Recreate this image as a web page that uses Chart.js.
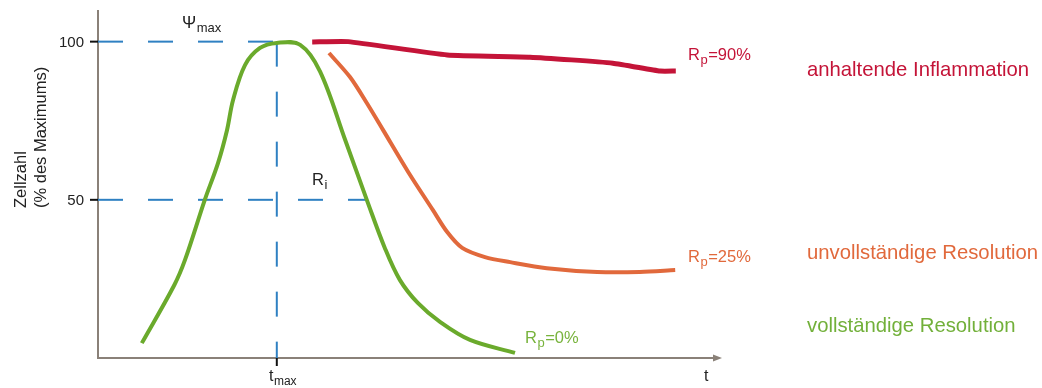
<!DOCTYPE html>
<html>
<head>
<meta charset="utf-8">
<script src="https://cdn.jsdelivr.net/npm/chart.js@4.4.1/dist/chart.umd.min.js"></script>
<style>
  html, body { margin: 0; padding: 0; background: #fff; }
  #wrap { width: 1042px; height: 388px; position: relative; }
</style>
</head>
<body>
<div id="wrap"><canvas id="zellChart"></canvas></div>
<script>
// Zeitachse (willkürliche Einheiten) und Zellzahl in % des Maximums
const tMax = 29.8;
const yTicks = [50, 100];

// vollständige Resolution (grün)
const tGreen = [7.3, 12.7, 14.5, 17.8, 20, 21.5, 22.5, 24.5, 27, 29.8, 33.7, 37, 41.2, 44.8, 47.8, 50.3, 53.3, 57, 62, 69.5];
const yGreen = [4.7, 23, 31, 50, 61.6, 72, 81.5, 92.6, 98, 99.6, 99, 90.6, 68.9, 50, 34.8, 24.7, 17.4, 11.4, 5.7, 1.6];

// unvollständige Resolution (orange)
const tOrange = [38.5, 42, 44.8, 47.5, 51.7, 55.8, 58.2, 60.7, 64.5, 68.7, 74.8, 83.2, 90.3, 96.2];
const yOrange = [96.4, 88.8, 80.6, 72.1, 58.8, 46.8, 39.8, 34.8, 31.9, 30.3, 28.4, 27.2, 27.2, 27.8];

// anhaltende Inflammation (rot)
const tRed = [35.7, 41.7, 58.2, 72, 85.8, 93.7, 96.3];
const yRed = [99.9, 100, 95.8, 95.1, 93.2, 90.7, 90.7];

// Hilfslinien (gestrichelt)
const tHalf = 44.8; // Schnittpunkt grün bei 50 %

const zip = (xs, ys) => xs.map((x, i) => ({ x: x, y: ys[i] }));

const FONT = '"Liberation Sans", Arial, sans-serif';
const BLUE = "#2f80c2";
const GREEN = "#6aaa2c";
const ORANGE = "#e1693c";
const RED = "#c41438";
const AXIS = "#8a8178";

// Achsen, Ticks und Beschriftungen
const annotations = {
    id: "annotations",
    beforeDatasetsDraw(chart) {
        const ctx = chart.ctx;
        const xs = chart.scales.x, ys = chart.scales.y;
        const x0 = xs.getPixelForValue(0), xEnd = xs.getPixelForValue(xs.max);
        const y0 = ys.getPixelForValue(0), yTop = ys.getPixelForValue(ys.max);
        ctx.save();
        ctx.strokeStyle = AXIS;
        ctx.lineWidth = 2;
        ctx.beginPath();
        ctx.moveTo(x0, yTop);
        ctx.lineTo(x0, y0);
        ctx.lineTo(xEnd - 4, y0);
        ctx.stroke();
        // Pfeilspitze
        ctx.fillStyle = AXIS;
        ctx.beginPath();
        ctx.moveTo(xEnd, y0);
        ctx.lineTo(xEnd - 9, y0 - 3.5);
        ctx.lineTo(xEnd - 9, y0 + 3.5);
        ctx.closePath();
        ctx.fill();
        // Ticks
        ctx.strokeStyle = "#111";
        ctx.lineWidth = 2;
        ctx.font = "15px " + FONT;
        ctx.fillStyle = "#222";
        ctx.textAlign = "right";
        ctx.textBaseline = "alphabetic";
        yTicks.forEach(v => {
            const py = ys.getPixelForValue(v);
            ctx.beginPath();
            ctx.moveTo(x0 - 8, py);
            ctx.lineTo(x0, py);
            ctx.stroke();
            ctx.fillText(String(v), x0 - 14, py + 5);
        });
        const pxT = xs.getPixelForValue(tMax);
        ctx.beginPath();
        ctx.moveTo(pxT, y0);
        ctx.lineTo(pxT, y0 + 8);
        ctx.stroke();
        ctx.restore();
    },
    afterDraw(chart) {
        const ctx = chart.ctx;
        ctx.save();
        ctx.textBaseline = "alphabetic";
        ctx.textAlign = "left";

        function sub(main, s, x, y, size, color) {
            ctx.fillStyle = color;
            ctx.font = size + "px " + FONT;
            ctx.fillText(main, x, y);
            const w = ctx.measureText(main).width;
            ctx.font = Math.round(size * 0.78) + "px " + FONT;
            ctx.fillText(s, x + w + 0.5, y + 4);
            return x + w + 0.5 + ctx.measureText(s).width;
        }
        function rp(text, x, y, color) {
            const nx = sub("R", "p", x, y, 16.5, color);
            ctx.font = "16.5px " + FONT;
            ctx.fillText(text, nx + 0.5, y);
        }

        // y-Achsentitel
        ctx.save();
        ctx.translate(26, 208);
        ctx.rotate(-Math.PI / 2);
        ctx.fillStyle = "#222";
        ctx.font = "16.5px " + FONT;
        ctx.fillText("Zellzahl", 0, 0);
        ctx.fillText("(% des Maximums)", 0, 20);
        ctx.restore();

        sub("\u03A8", "max", 182, 28, 17, "#222");
        sub("R", "i", 312, 185, 16.5, "#222");
        sub("t", "max", 269, 381, 16, "#222");
        ctx.font = "16px " + FONT;
        ctx.fillStyle = "#222";
        ctx.fillText("t", 704, 381);

        rp("=90%", 688, 60, RED);
        rp("=25%", 688, 262, ORANGE);
        rp("=0%", 525, 343, "#78b33c");

        ctx.font = "20.3px " + FONT;
        ctx.fillStyle = RED;
        ctx.fillText("anhaltende Inflammation", 807, 76);
        ctx.fillStyle = ORANGE;
        ctx.fillText("unvollständige Resolution", 807, 259);
        ctx.fillStyle = "#72b03a";
        ctx.fillText("vollständige Resolution", 807, 332);
        ctx.restore();
    }
};

const dashed = (pts) => ({
    data: pts,
    borderColor: BLUE,
    borderWidth: 2,
    borderDash: [25, 25],
    pointRadius: 0,
    tension: 0,
    order: 10,
});

const curve = (pts, color, width, tension) => ({
    data: pts,
    borderColor: color,
    borderWidth: width,
    pointRadius: 0,
    tension: tension,
    borderJoinStyle: "round",
    order: 0,
});

const config = {
    type: "line",
    data: {
        datasets: [
            dashed([{ x: 0, y: 100 }, { x: tMax, y: 100 }]),
            dashed([{ x: tMax, y: 100 }, { x: tMax, y: 0 }]),
            dashed([{ x: 0, y: 50 }, { x: tHalf, y: 50 }]),
            curve(zip(tGreen, yGreen), GREEN, 4, 0.35),
            curve(zip(tOrange, yOrange), ORANGE, 4, 0.3),
            curve(zip(tRed, yRed), RED, 5, 0.15),
        ],
    },
    options: {
        responsive: true,
        maintainAspectRatio: false,
        animation: false,
        layout: { padding: { left: 98, right: 320, top: 10, bottom: 30 } },
        plugins: {
            legend: { display: false },
            tooltip: { enabled: false },
        },
        scales: {
            x: { type: "linear", min: 0, max: 104, display: false },
            y: { min: 0, max: 110, display: false },
        },
    },
    plugins: [annotations],
};

new Chart(document.getElementById("zellChart"), config);
</script>
</body>
</html>
